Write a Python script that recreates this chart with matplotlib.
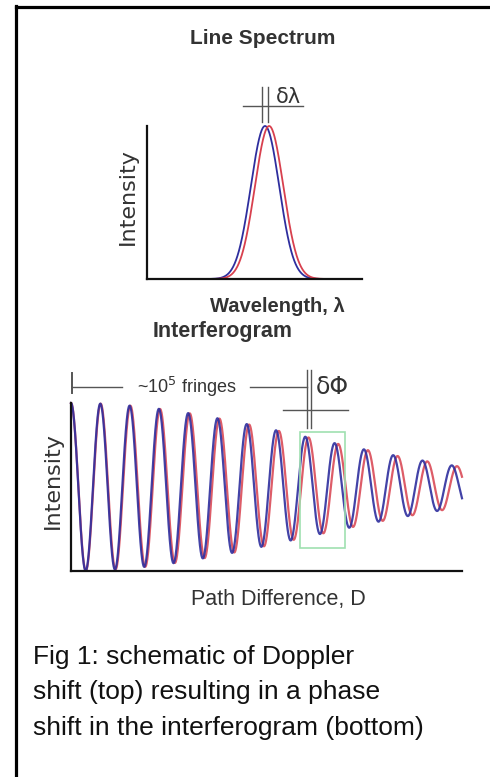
import numpy as np
import matplotlib
matplotlib.use("Agg")
import matplotlib.pyplot as plt
from matplotlib.lines import Line2D
from matplotlib.patches import Rectangle

W, H = 490, 777

# line spectrum: blue (rest) and red (shifted) line, axis fraction units
line_names = ["rest", "shifted"]
line_colors = ["#2e2e9e", "#d8404e"]
line_center = [0.549, 0.568]
line_sigma = [0.066, 0.066]

# interferogram: fringe period (px of path difference) and envelope length
fringe_period = [29.3, 29.7]
envelope_len = 327.0
path_max = 391.0


def fx(px):
    return px / W


def fy(py):
    return 1 - py / H


def add_axes_px(fig, left, top, right, bottom):
    return fig.add_axes([fx(left), fy(bottom), (right - left) / W, (bottom - top) / H])


def fig_line(fig, xs, ys, color="#555555", lw=1.0):
    fig.add_artist(Line2D([fx(x) for x in xs], [fy(y) for y in ys], color=color, lw=lw))


def fig_text(fig, x, y, s, **kw):
    fig.text(fx(x), fy(y), s, **kw)


def style_axes(ax):
    for side in ["top", "right"]:
        ax.spines[side].set_visible(False)
    for side in ["left", "bottom"]:
        ax.spines[side].set_linewidth(1.6)
        ax.spines[side].set_color("#111111")
    ax.set_xticks([])
    ax.set_yticks([])
    ax.patch.set_alpha(0)


fig = plt.figure(figsize=(W / 100, H / 100), dpi=100)
fig.patch.set_facecolor("white")

# frame of the figure box (top and left edges)
fig_line(fig, [15.5, W], [6.5, 6.5], color="black", lw=2.3)
fig_line(fig, [15.5, 15.5], [5.5, H], color="black", lw=2.3)

# ---- line spectrum ----
ax1 = add_axes_px(fig, 147, 126, 362, 279)
lam = np.linspace(0, 1, 600)
for c, s, col in zip(line_center, line_sigma, line_colors):
    ax1.plot(lam, np.exp(-0.5 * ((lam - c) / s) ** 2), color=col, lw=1.3, clip_on=False)
ax1.set_xlim(0, 1)
ax1.set_ylim(0, 1)
style_axes(ax1)

fig_text(fig, 263, 38, "Line Spectrum", ha="center", va="center",
         fontsize=15, fontweight="bold", color="#333333", family="Liberation Sans")
fig_line(fig, [262, 262], [87, 122])
fig_line(fig, [268, 268], [87, 122])
fig_line(fig, [243, 303], [106, 106])
fig_text(fig, 276, 97, "δλ", ha="left", va="center", fontsize=15, color="#333333",
         family="DejaVu Sans")
fig_text(fig, 128, 197, "Intensity", ha="center", va="center", rotation=90,
         fontsize=16, color="#333333", family="Liberation Sans Narrow")
fig_text(fig, 277, 307, "Wavelength, λ", ha="center", va="center",
         fontsize=14.5, fontweight="bold", color="#333333", family="Liberation Sans")
fig_text(fig, 153, 332, "Interferogram", ha="left", va="center",
         fontsize=15.5, fontweight="bold", color="#333333", family="Liberation Sans")

# ---- interferogram ----
ax2 = add_axes_px(fig, 71, 403, 462, 571)
d = np.linspace(0, path_max, 2000)
env = np.exp(-(d / envelope_len) ** 2)
for p, col, a in zip(fringe_period[::-1], line_colors[::-1], [0.85, 0.9]):
    ax2.plot(d, 0.5 * (1 + env * np.cos(2 * np.pi * d / p)), color=col, lw=1.6,
             alpha=a, clip_on=False)
ax2.set_xlim(0, path_max)
ax2.set_ylim(0, 1)
style_axes(ax2)

fig_line(fig, [72, 72], [373, 393], lw=1.4)
fig_line(fig, [72, 122], [387, 387])
fig_line(fig, [250, 307], [387, 387])
fig_line(fig, [307, 307], [370, 428])
fig_line(fig, [311, 311], [370, 428])
fig_line(fig, [283, 348], [410, 410])
fig_text(fig, 187, 387, "~10$^5$ fringes", ha="center", va="center", fontsize=13,
         color="#333333", family="Liberation Sans")
fig_text(fig, 316, 387, "δΦ", ha="left", va="center", fontsize=17, color="#333333",
         family="DejaVu Sans")
fig.add_artist(Rectangle((fx(300), fy(548)), (345 - 300) / W, (548 - 432) / H,
                         fill=False, edgecolor="#9fe0b0", lw=1.2))
fig_text(fig, 53, 481, "Intensity", ha="center", va="center", rotation=90,
         fontsize=16, color="#333333", family="Liberation Sans Narrow")
fig_text(fig, 278, 600, "Path Difference, D", ha="center", va="center",
         fontsize=15.5, color="#333333", family="Liberation Sans")

# ---- caption ----
caption = ["Fig 1: schematic of Doppler",
           "shift (top) resulting in a phase",
           "shift in the interferogram (bottom)"]
for i, line in enumerate(caption):
    fig_text(fig, 33, 657 + 35.5 * i, line, ha="left", va="center", fontsize=19,
             color="#111111", family="Liberation Sans")

fig.savefig("out.png", dpi=100)
